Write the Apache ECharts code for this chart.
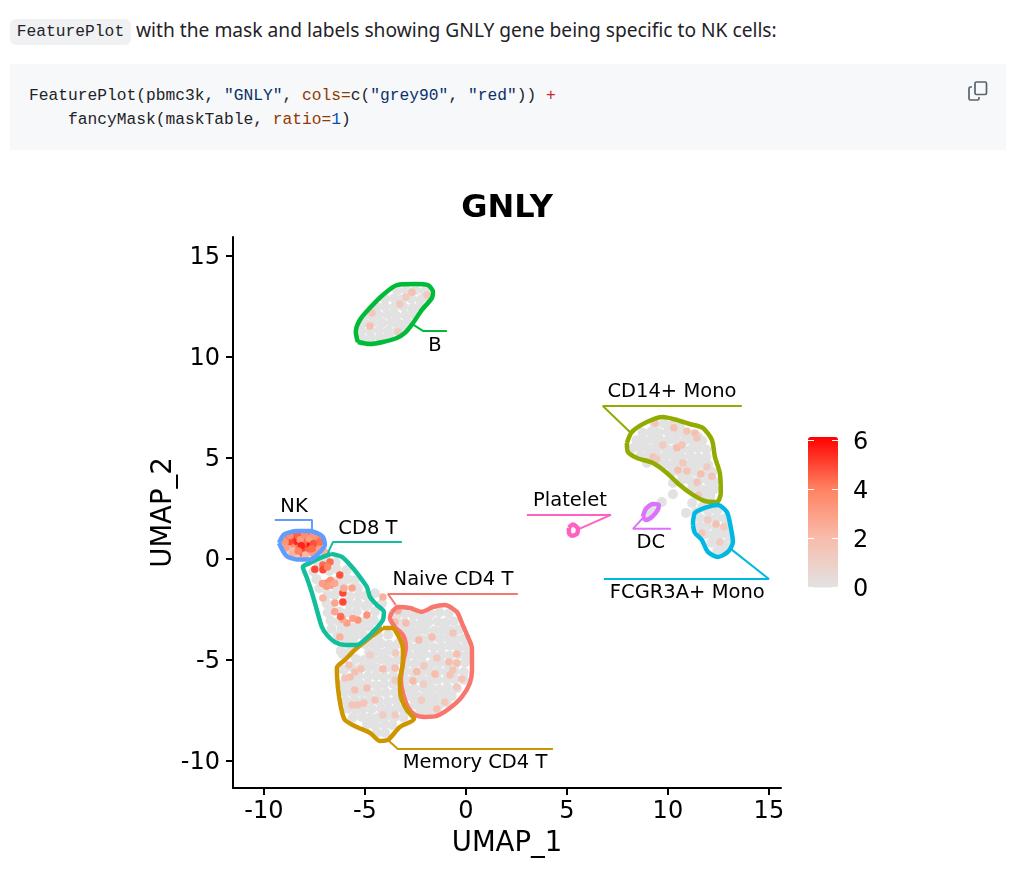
<!DOCTYPE html>
<html>
<head>
<meta charset="utf-8">
<script src="https://cdn.jsdelivr.net/npm/echarts@6/dist/echarts.min.js"></script>
<style>
  html, body { margin: 0; padding: 0; background: #fff; width: 1021px; height: 883px; overflow: hidden; }
  #chart { position: absolute; left: 0; top: 0; width: 1021px; height: 883px; }
  .intro { position: absolute; left: 136px; top: 16px; font: 19.2px/28px "Noto Sans", sans-serif; color: #1f2328; white-space: nowrap; }
  .inline { position: absolute; left: 10px; top: 19px; width: 121px; height: 26px; background: #eff1f3; border-radius: 6px;
    font: 16.25px/26px "Liberation Mono", monospace; color: #1f2328; text-align: center; }
  .block { position: absolute; left: 10px; top: 64px; width: 996px; height: 86px; background: #f6f8fa; }
  .block pre { position: absolute; left: 19px; top: 20px; margin: 0; font: 16.25px/24px "Liberation Mono", monospace; color: #1f2328; }
  .block svg { position: absolute; left: 957px; top: 16px; }
  .s { color: #0a3069; } .k { color: #953800; } .o { color: #cf222e; } .n { color: #0550ae; }
</style>
</head>
<body>
<div class="inline">FeaturePlot</div>
<div class="intro">with the mask and labels showing GNLY gene being specific to NK cells:</div>
<div class="block">
<pre>FeaturePlot(pbmc3k, <span class="s">"GNLY"</span>, <span class="k">cols=</span>c(<span class="s">"grey90"</span>, <span class="s">"red"</span>)) <span class="o">+</span>
    fancyMask(maskTable, <span class="k">ratio=</span><span class="n">1</span>)</pre>
<svg width="22" height="22" viewBox="0 0 22 22" fill="none" stroke="#59636e" stroke-width="1.7">
  <rect x="8" y="2" width="11.5" height="12.5" rx="1.5"/>
  <path d="M5 7H3.5A1.5 1.5 0 0 0 2 8.5v10A1.5 1.5 0 0 0 3.5 20h7a1.5 1.5 0 0 0 1.5-1.5V17"/>
</svg>
</div>
<div id="chart"></div>
<script>
// tick labels
const xTicks = [-10, -5, 0, 5, 10, 15];
const yTicks = [-10, -5, 0, 5, 10, 15];
const legendTicks = [0, 2, 4, 6];

// cluster names, order is the same for all the lists below
const clusterNames = ['Naive CD4 T', 'Memory CD4 T', 'CD14+ Mono', 'B', 'CD8 T', 'FCGR3A+ Mono', 'NK', 'DC', 'Platelet'];
const labelX = [-0.64, 0.45, 10.2, -1.53, -4.85, 10.96, -8.51, 9.16, 5.15];
const labelY = [-1.02, -10.08, 8.29, 10.56, 1.5, -1.66, 2.59, 0.81, 2.89];

// mask outlines
const maskNaive = [[-3.66,-2.62],[-3.37,-2.38],[-2.77,-2.43],[-2.18,-2.62],[-1.63,-2.38],[-1.04,-2.28],[-0.45,-2.62],[-0.2,-3.17],[0.1,-3.86],[0.3,-4.41],[0.3,-5.5],[0.2,-6.14],[-0.2,-6.83],[-0.79,-7.38],[-1.44,-7.77],[-2.03,-7.82],[-2.52,-7.72],[-2.87,-7.33],[-3.12,-6.63],[-3.22,-5.99],[-3.12,-5.15],[-2.97,-4.36],[-3.12,-3.76],[-3.51,-3.37],[-3.76,-2.92],[-3.66,-2.62]];
const maskMemory = [[-4.11,-3.42],[-3.66,-3.42],[-3.37,-3.76],[-3.12,-4.41],[-3.12,-5.15],[-3.27,-5.99],[-3.22,-6.83],[-2.92,-7.48],[-2.57,-7.92],[-3.27,-8.32],[-3.86,-8.96],[-4.26,-9.01],[-4.75,-8.61],[-5.4,-8.32],[-5.99,-7.97],[-6.19,-7.33],[-6.34,-6.34],[-6.39,-5.4],[-5.99,-5.0],[-5.5,-4.5],[-4.9,-4.01],[-4.11,-3.42]];
const maskCD14 = [[7.97,5.74],[8.22,6.29],[8.96,6.78],[9.75,7.03],[10.45,6.88],[11.09,6.68],[11.73,6.49],[12.18,5.89],[12.33,5.05],[12.57,4.26],[12.62,3.27],[12.43,2.82],[11.83,2.87],[11.24,3.17],[10.59,3.66],[9.95,4.26],[9.26,4.75],[8.47,5.0],[8.02,5.3],[7.97,5.74]];
const maskB = [[-5.35,10.74],[-5.45,11.24],[-5.25,11.83],[-4.75,12.43],[-4.11,13.07],[-3.42,13.56],[-2.52,13.61],[-1.88,13.56],[-1.63,13.22],[-1.68,12.92],[-2.18,12.33],[-2.62,11.68],[-3.02,11.19],[-3.42,10.94],[-4.11,10.74],[-4.75,10.64],[-5.35,10.74]];
const maskCD8 = [[-6.68,0.25],[-6.14,0.1],[-5.64,-0.4],[-5.25,-0.89],[-4.9,-1.39],[-4.75,-1.88],[-4.41,-2.28],[-4.06,-2.62],[-4.11,-3.02],[-4.5,-3.51],[-4.9,-3.91],[-5.4,-4.26],[-5.99,-4.26],[-6.49,-4.11],[-6.88,-3.76],[-7.13,-3.37],[-7.38,-2.52],[-7.62,-1.68],[-7.87,-0.94],[-8.07,-0.4],[-7.72,-0.2],[-7.33,0],[-6.68,0.25]];
const maskFCGR3A = [[11.24,1.68],[11.34,2.28],[11.93,2.57],[12.48,2.67],[12.92,2.33],[13.07,1.78],[13.22,0.84],[12.97,0.35],[12.48,0.1],[11.98,0.35],[11.68,0.94],[11.34,1.29],[11.24,1.68]];
const maskNK = [[-9.25,0.79],[-9.0,1.22],[-8.37,1.38],[-7.72,1.38],[-7.1,1.12],[-6.98,0.69],[-7.3,0.27],[-7.72,-0.03],[-8.37,-0.03],[-8.9,0.17],[-9.25,0.79]];
const maskDC = [[8.76,2.08],[8.91,2.48],[9.26,2.72],[9.55,2.67],[9.5,2.43],[9.21,2.08],[8.91,1.93],[8.76,2.08]];
const maskPlatelet = [[5.1,1.55],[5.3,1.7],[5.55,1.5],[5.5,1.25],[5.25,1.15],[5.1,1.3],[5.1,1.55]];

// leader lines from label to mask
const leaderNaive = [[2.57,-1.73],[-3.86,-1.73],[-3.47,-2.28]];
const leaderMemory = [[4.31,-9.41],[-3.37,-9.41],[-3.86,-8.96]];
const leaderCD14 = [[13.66,7.57],[6.78,7.57],[8.12,6.29]];
const leaderB = [[-0.94,11.29],[-2.13,11.29],[-2.57,11.58]];
const leaderCD8 = [[-3.17,0.84],[-6.58,0.84],[-6.83,0.3]];
const leaderFCGR3A = [[6.83,-0.99],[15,-0.99],[13.05,0.55]];
const leaderNK = [[-9.46,1.93],[-7.62,1.93],[-7.62,1.44]];
const leaderDC = [[10.15,1.49],[8.27,1.49],[8.86,2.13]];
const leaderPlatelet = [[3.02,2.18],[7.18,2.18],[5.5,1.44]];

// cells with no GNLY signal
const greyNaive = [
  [-3.4,-2.75],[-3.0,-2.7],[-2.6,-2.78],[-2.2,-2.9],[-1.75,-2.72],[-1.3,-2.65],[-0.85,-2.7],
  [-3.45,-3.1],[-3.05,-3.15],[-2.65,-3.2],[-2.25,-3.25],[-1.85,-3.12],[-1.4,-3.1],[-1.0,-3.15],[-0.6,-3.1],
  [-3.2,-3.5],[-2.8,-3.55],[-2.4,-3.62],[-2.0,-3.52],[-1.55,-3.55],[-1.15,-3.5],[-0.75,-3.55],[-0.35,-3.5],
  [-2.95,-3.95],[-2.55,-3.9],[-2.15,-4.0],[-1.75,-3.92],[-1.3,-3.95],[-0.9,-3.9],[-0.5,-3.98],[-0.1,-3.95],
  [-2.8,-4.35],[-2.4,-4.4],[-2.0,-4.32],[-1.6,-4.38],[-1.2,-4.35],[-0.8,-4.3],[-0.4,-4.38],[0.0,-4.35],
  [-2.85,-4.75],[-2.45,-4.78],[-2.05,-4.72],[-1.6,-4.8],[-1.2,-4.75],[-0.8,-4.78],[-0.35,-4.72],[0.05,-4.78],
  [-2.95,-5.15],[-2.55,-5.2],[-2.15,-5.15],[-1.7,-5.2],[-1.3,-5.12],[-0.9,-5.2],[-0.5,-5.18],[-0.05,-5.12],
  [-3.0,-5.55],[-2.6,-5.6],[-2.2,-5.58],[-1.8,-5.6],[-1.35,-5.55],[-0.95,-5.6],[-0.55,-5.55],[-0.1,-5.6],
  [-3.0,-5.98],[-2.6,-6.0],[-2.2,-5.95],[-1.8,-6.02],[-1.4,-5.98],[-0.95,-6.0],[-0.55,-5.95],[-0.1,-5.98],
  [-2.95,-6.4],[-2.55,-6.42],[-2.1,-6.38],[-1.7,-6.4],[-1.3,-6.45],[-0.9,-6.38],[-0.45,-6.4],
  [-2.75,-6.8],[-2.35,-6.82],[-1.95,-6.78],[-1.55,-6.85],[-1.1,-6.8],[-0.7,-6.78],
  [-2.55,-7.2],[-2.15,-7.22],[-1.75,-7.18],[-1.3,-7.2],[-0.95,-7.12],
  [-2.25,-7.55],[-1.85,-7.58],[-1.45,-7.5]
];
const greyMemory = [
  [-4.35,-3.8],[-3.85,-3.75],
  [-5.0,-4.22],[-4.6,-4.2],[-4.2,-4.18],[-3.8,-4.25],[-3.35,-4.2],
  [-4.8,-4.62],[-4.4,-4.6],[-4.0,-4.65],[-3.6,-4.58],
  [-5.45,-4.95],[-5.05,-5.0],[-4.6,-5.02],[-4.2,-4.98],[-3.8,-5.05],[-3.4,-5.0],
  [-5.2,-5.4],[-4.8,-5.38],[-4.4,-5.42],[-3.95,-5.4],[-3.55,-5.42],
  [-6.05,-5.5],[-5.65,-5.35],[-5.3,-5.8],[-4.85,-5.82],[-4.45,-5.78],[-4.05,-5.85],[-3.6,-5.8],
  [-6.1,-6.2],[-5.7,-6.22],[-5.25,-6.18],[-4.85,-6.2],[-4.45,-6.25],[-4.05,-6.2],[-3.6,-6.18],
  [-6.0,-6.6],[-5.6,-6.62],[-5.2,-6.6],[-4.8,-6.65],[-4.35,-6.6],[-3.95,-6.62],[-3.5,-6.6],
  [-5.95,-7.02],[-5.5,-7.0],[-5.1,-7.05],[-4.7,-7.0],[-4.3,-7.02],[-3.85,-7.05],[-3.45,-7.0],
  [-5.85,-7.42],[-5.45,-7.45],[-5.05,-7.4],[-4.65,-7.42],[-4.2,-7.4],[-3.8,-7.45],[-3.4,-7.38],[-3.05,-7.5],
  [-5.6,-7.85],[-5.15,-7.82],[-4.75,-7.85],[-4.35,-7.85],[-3.95,-7.8],[-3.55,-7.85],[-3.1,-7.85],
  [-4.9,-8.2],[-4.5,-8.25],[-4.05,-8.2],[-3.65,-8.22],
  [-4.4,-8.6],[-4.0,-8.62],
  [-6.1,-4.7],[-5.8,-4.65],[-5.65,-5.95]
];
const greyCD14 = [
  [9.35,6.65],[9.8,6.7],[10.2,6.62],[10.6,6.55],
  [8.75,6.25],[9.15,6.28],[9.55,6.25],[10.0,6.3],[10.4,6.22],[10.8,6.2],[11.2,6.15],[11.5,6.05],
  [8.45,5.88],[8.85,5.85],[9.25,5.9],[9.65,5.85],[10.05,5.9],[10.45,5.82],[10.85,5.88],[11.25,5.8],[11.7,5.85],
  [8.25,5.48],[8.65,5.5],[9.05,5.45],[9.45,5.5],[9.9,5.45],[10.3,5.42],[10.7,5.45],[11.1,5.4],[11.5,5.48],[11.9,5.42],
  [8.65,5.12],[9.05,5.1],[9.45,5.15],[9.85,5.08],[10.25,5.12],[10.65,5.05],[11.1,5.1],[11.5,5.02],[11.9,5.05],
  [9.55,4.72],[9.95,4.7],[10.35,4.75],[10.8,4.7],[11.2,4.68],[11.6,4.72],[12.0,4.65],
  [10.2,4.32],[10.6,4.3],[11.0,4.28],[11.4,4.32],[11.8,4.25],[12.2,4.3],
  [10.7,3.92],[11.1,3.9],[11.5,3.85],[11.95,3.92],[12.3,3.85],
  [11.2,3.5],[11.6,3.48],[12.0,3.5],[12.3,3.45],
  [11.75,3.15],[12.1,3.1]
];
const greyStray = [
  [10.25,3.76],[10.25,3.2],[9.7,2.82],[11.2,2.77],[10.9,2.28],[11.4,2.33],[11.7,2.57],[8.96,4.75],
  [-4.5,-1.7],[-4.15,-2.2],[-6.2,-4.55],[-5.7,-4.5],[9.2,2.4],[9.0,2.2]
];
const greyB = [
  [-3.4,13.28],[-2.95,13.3],[-2.5,13.3],[-2.05,13.25],
  [-4.0,12.88],[-3.55,12.9],[-3.15,12.85],[-2.7,12.88],[-2.25,12.85],[-1.95,12.95],
  [-4.4,12.48],[-4.0,12.5],[-3.55,12.45],[-3.1,12.5],[-2.65,12.42],[-2.3,12.5],
  [-4.8,12.1],[-4.35,12.08],[-3.9,12.12],[-3.45,12.05],[-3.0,12.08],[-2.6,12.1],
  [-5.05,11.7],[-4.6,11.72],[-4.15,11.68],[-3.7,11.7],[-3.3,11.65],[-2.9,11.7],
  [-5.2,11.3],[-4.75,11.28],[-4.3,11.32],[-3.85,11.28],[-3.4,11.3],[-3.1,11.35],
  [-5.15,10.92],[-4.7,10.95],[-4.25,10.98],[-3.8,11.0]
];
const greyCD8 = [
  [-7.3,-0.22],[-6.9,-0.08],[-6.45,-0.15],
  [-7.55,-0.62],[-6.75,-0.6],[-6.4,-0.5],[-5.9,-0.55],
  [-7.4,-1.0],[-6.3,-1.05],[-5.85,-1.0],[-5.5,-1.05],
  [-7.25,-1.45],[-6.4,-1.5],[-6.05,-1.4],[-5.35,-1.45],
  [-6.85,-1.75],[-6.5,-1.8],[-5.75,-1.85],[-5.3,-1.8],[-4.95,-1.82],
  [-6.9,-2.2],[-5.75,-2.25],[-5.35,-2.2],[-4.85,-2.25],[-6.65,-2.55],
  [-6.85,-2.65],[-6.25,-2.6],[-5.85,-2.65],[-5.4,-2.6],[-4.95,-2.35],[-4.5,-2.6],
  [-6.7,-3.05],[-6.3,-3.1],[-5.55,-3.4],[-5.0,-3.1],[-4.55,-3.05],
  [-6.65,-3.45],[-6.15,-3.45],[-5.75,-3.45],[-5.2,-3.4],[-4.8,-3.35],
  [-6.35,-3.8],[-5.9,-3.8],[-5.5,-3.82],[-5.1,-3.75],
  [-5.95,-4.02],[-5.6,-4.05]
];
const greyFCGR3A = [
  [12.0,2.38],[12.45,2.4],
  [11.6,2.0],[12.0,1.98],[12.4,2.02],[12.8,2.0],
  [11.55,1.6],[11.95,1.62],[12.4,1.58],[12.85,1.6],
  [11.85,1.22],[12.25,1.2],[12.65,1.25],[13.0,1.18],
  [12.15,0.8],[12.55,0.82],[12.95,0.78],
  [12.45,0.42],[12.85,0.45]
];
const greyNK = [
  [-8.75,0.45],[-8.1,0.2],[-7.5,0.25],[-8.9,0.95],[-7.3,0.95]
];

// cells with GNLY signal, x, y, expression
const exprNK = [
  [-8.85,0.75,3.6],[-8.8,1.0,4.4],[-8.7,0.55,1.2],[-8.6,0.85,4.8],[-8.55,1.1,5.2],[-8.5,0.6,3.4],
  [-8.45,0.3,3.0],[-8.35,0.85,5.5],[-8.3,1.15,4.6],[-8.25,0.55,4.2],[-8.15,0.3,4.8],[-8.1,0.8,4.0],
  [-8.05,1.05,5.6],[-8.0,0.55,5.0],[-7.9,0.85,4.4],[-7.85,1.15,4.2],[-7.8,0.45,4.6],[-7.7,0.7,5.8],
  [-7.65,0.95,5.0],[-7.6,0.3,3.2],[-7.5,0.55,4.4],[-7.45,0.85,5.4],[-7.4,1.05,4.0],[-7.3,0.65,3.8],
  [-8.2,0.95,3.2],[-7.75,1.0,3.0],[-8.55,0.4,2.0],[-8.4,0.15,1.4],[-7.95,0.2,2.2],[-7.2,0.85,4.4],
  [-8.75,0.85,5.0],[-8.15,0.65,5.6],[-7.55,0.75,4.8],[-7.0,0.35,2.4],
  [-8.9,0.55,3.0],[-8.95,0.85,3.4],[-8.6,0.25,2.4],[-8.0,1.2,3.6],[-7.5,1.15,3.4],[-7.25,0.45,3.0],
  [-8.3,0.4,4.0],[-7.65,0.5,4.4],[-8.7,1.15,3.6]
];
const exprCD8 = [
  [-7.48,-0.51,5.0],[-7.08,-0.3,4.4],[-6.73,-0.15,4.4],[-7.08,-0.54,5.0],[-6.85,-0.4,4.0],[-6.24,-0.79,4.8],
  [-6.88,-1.19,3.8],[-7.1,-1.22,3.0],[-6.7,-1.05,3.4],[-6.9,-1.35,3.2],[-6.7,-1.3,3.0],[-6.5,-1.2,2.8],
  [-6.09,-1.68,5.0],[-5.64,-1.44,2.8],[-6.09,-2.13,5.0],[-6.49,-2.18,2.8],[-6.05,-1.45,2.6],[-4.9,-2.77,3.4],
  [-5.35,-3.02,3.4],[-5.89,-3.17,3.0],[-6.24,-3.86,2.4],[-7.08,-1.93,2.2],[-4.11,-1.88,2.4],[-6.49,-2.62,2.8],
  [-6.1,-3.0,2.6],[-6.2,-2.85,4.4],[-5.6,-2.95,3.0]
];
const exprNaive = [
  [-3.37,-2.57,2.6],[-3.51,-3.12,2.0],[-2.97,-3.17,2.0],[-2.33,-4.01,2.0],[-1.68,-3.86,1.8],[-0.64,-3.66,1.5],
  [-0.45,-4.7,1.8],[-0.84,-5.1,1.8],[-0.45,-5.15,1.8],[-1.53,-5.69,2.0],[-2.43,-5.59,2.0],[-2.62,-6.04,2.0],
  [-2.08,-5.3,1.3],[-0.79,-5.74,1.6],[-0.2,-5.94,1.5],[-1.44,-4.9,1.3],[-1.44,-7.43,1.6],[-1.04,-7.08,1.4],
  [-0.45,-6.34,1.3],[-2.1,-6.2,1.1],[-0.65,-5.5,1.5],[-2.2,-7.0,1.2]
];
const exprMemory = [
  [-5.79,-5.25,1.5],[-4.11,-5.45,1.8],[-3.51,-5.4,1.8],[-3.47,-4.65,1.3],[-4.75,-4.75,1.0],[-5.5,-5.6,1.8],
  [-5.74,-5.84,1.8],[-5.99,-5.89,1.6],[-5.5,-6.49,1.8],[-4.9,-6.39,1.8],[-4.5,-6.98,1.5],[-5.64,-7.23,1.5],
  [-5.35,-7.23,1.5],[-5.05,-7.13,1.5],[-4.11,-7.72,1.2],[-3.51,-7.72,1.2],[-3.5,-6.0,1.2],[-5.2,-5.45,1.6]
];
const exprCD14 = [
  [9.36,6.73,1.5],[10.3,6.49,1.8],[10.94,6.34,1.6],[11.34,6.24,1.8],[10.45,5.5,2.0],[11.44,5.99,1.5],
  [10.69,5.64,1.6],[9.75,5.64,1.2],[9.26,5.05,1.5],[10.5,4.4,1.8],[10.94,4.36,1.5],[10.74,4.75,1.3],
  [11.63,4.2,1.8],[12.18,4.1,1.5],[11.44,3.8,1.5],[11.5,3.17,1.3],[11.93,4.55,1.2],[9.45,4.95,1.3]
];
const exprB = [
  [-2.67,13.2,1.8],[-4.75,11.53,1.8],[-4.65,12.18,1.4],[-3.27,12.62,1.3],[-2.97,12.97,1.2],[-1.93,13.07,1.3],[-3.37,11.24,1.2]
];
const exprFCGR3A = [
  [12.38,1.73,1.8],[11.68,1.29,1.4],[11.98,1.93,1.2],[12.57,0.84,1.2],[12.77,1.58,1.2]
];

const clusterColors = ['#F8766D', '#CD9600', '#93AA00', '#00BA38', '#12BF9B', '#00B9E3', '#619CFF', '#DB72FB', '#FF61C3'];
const masks = [maskNaive, maskMemory, maskCD14, maskB, maskCD8, maskFCGR3A, maskNK, maskDC, maskPlatelet];
const leaders = [leaderNaive, leaderMemory, leaderCD14, leaderB, leaderCD8, leaderFCGR3A, leaderNK, leaderDC, leaderPlatelet];

const greyCells = [].concat(greyNaive, greyMemory, greyCD14, greyStray, greyB, greyCD8, greyFCGR3A, greyNK).map(function (c) {
  return [c[0], c[1], 0];
});
const exprCells = [].concat(exprNaive, exprMemory, exprCD14, exprB, exprFCGR3A, exprCD8, exprNK);

const fontName = '"DejaVu Sans", sans-serif';
const series = [
  { type: 'scatter', data: greyCells, symbolSize: 10, z: 2, silent: true, itemStyle: { opacity: 1 } },
  { type: 'scatter', data: exprCells, symbolSize: 7.5, z: 3, silent: true, itemStyle: { opacity: 1 } },
  // the legend grid needs a series to draw its axes
  { type: 'scatter', xAxisIndex: 1, yAxisIndex: 2, data: [] }
];
masks.forEach(function (m, i) {
  series.push({
    type: 'line', data: m, smooth: 0.25, symbol: 'none', z: 4, silent: true, clip: false,
    lineStyle: { color: clusterColors[i], width: 4.5 }
  });
  series.push({
    type: 'line', data: leaders[i], symbol: 'none', z: 4, silent: true, clip: false,
    lineStyle: { color: clusterColors[i], width: 2 }
  });
});
series.push({
  type: 'scatter', symbolSize: 0, z: 5, silent: true, itemStyle: { opacity: 1 },
  data: clusterNames.map(function (name, i) { return { name: name, value: [labelX[i], labelY[i]] }; }),
  label: { show: true, position: 'inside', formatter: '{b}', fontFamily: fontName, fontSize: 19.5, color: '#000' }
});

// y tick labels sit a little under their ticks in the original
const shiftedTick = { t: { padding: [4, 0, 0, 0], fontFamily: fontName, fontSize: 24, color: '#000' } };

const myChart = echarts.init(document.getElementById('chart'));
myChart.setOption({
  animation: false,
  title: {
    text: 'GNLY', left: 507, top: 193, textAlign: 'center', padding: 0,
    textStyle: { fontFamily: fontName, fontSize: 32, fontWeight: 'bold', color: '#000' }
  },
  grid: [
    { left: 233, top: 237, width: 548, height: 551 },
    { left: 808, top: 437, width: 30, height: 150.5 }
  ],
  xAxis: [
    {
      type: 'value', gridIndex: 0, min: -11.53, max: 15.6,
      name: 'UMAP_1', nameLocation: 'middle', nameGap: 42, nameMoveOverlap: false,
      nameTextStyle: { fontFamily: fontName, fontSize: 27.5, color: '#000' },
      splitLine: { show: false },
      axisLine: { onZero: false, lineStyle: { color: '#000', width: 2 } },
      axisTick: { length: 7, customValues: xTicks, lineStyle: { color: '#000', width: 2 } },
      axisLabel: { customValues: xTicks, margin: 12, fontFamily: fontName, fontSize: 24, color: '#000', showMinLabel: true, showMaxLabel: true }
    },
    { type: 'value', gridIndex: 1, min: 0, max: 1, show: false }
  ],
  yAxis: [
    {
      type: 'value', gridIndex: 0, min: -11.34, max: 15.94,
      name: 'UMAP_2', nameLocation: 'middle', nameGap: 55, nameMoveOverlap: false,
      nameTextStyle: { fontFamily: fontName, fontSize: 27.5, color: '#000' },
      splitLine: { show: false },
      axisLine: { onZero: false, lineStyle: { color: '#000', width: 2 } },
      axisTick: { length: 7, customValues: yTicks, lineStyle: { color: '#000', width: 2 } },
      axisLabel: { customValues: yTicks, margin: 13, formatter: '{t|{value}}', rich: shiftedTick }
    },
    {
      type: 'value', gridIndex: 1, position: 'left', min: 0, max: 6.14, z: 10,
      splitLine: { show: false }, axisLine: { show: false },
      axisTick: { inside: true, length: 6, customValues: legendTicks, lineStyle: { color: '#fff', width: 1 } },
      axisLabel: { show: false }
    },
    {
      type: 'value', gridIndex: 1, position: 'right', min: 0, max: 6.14, z: 10,
      splitLine: { show: false }, axisLine: { show: false },
      axisTick: { inside: true, length: 6, customValues: legendTicks, lineStyle: { color: '#fff', width: 1 } },
      axisLabel: { customValues: legendTicks, margin: 15, formatter: '{t|{value}}', rich: shiftedTick }
    }
  ],
  visualMap: {
    type: 'continuous', seriesIndex: [0, 1], dimension: 2, min: 0, max: 6.14,
    left: 793, top: 422, itemWidth: 30, itemHeight: 150.5, calculable: false, hoverLink: false,
    inRange: { color: ['#E2E2E2', '#F9BBAA', '#FF7F5E', '#FF0000'] }
  },
  series: series
});
</script>
</body>
</html>
